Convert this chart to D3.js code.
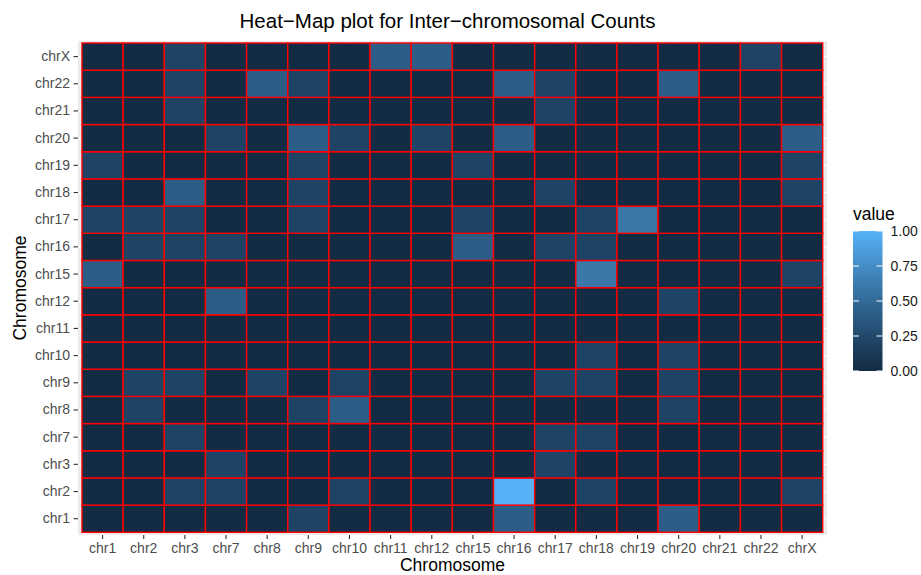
<!DOCTYPE html>
<html>
<head>
<meta charset="utf-8">
<script src="https://cdn.jsdelivr.net/npm/d3@7"></script>
<style>
  body { margin: 0; background: #fff; }
  text { font-family: "Liberation Sans", Arial, Helvetica, sans-serif; }
</style>
</head>
<body>
<svg width="921" height="575"></svg>
<script>
let svg = d3.select("svg");

// categories, bottom-to-top on y and left-to-right on x
const xCats = ["chr1","chr2","chr3","chr7","chr8","chr9","chr10","chr11","chr12","chr15","chr16","chr17","chr18","chr19","chr20","chr21","chr22","chrX"];
const yCats = ["chr1","chr2","chr3","chr7","chr8","chr9","chr10","chr11","chr12","chr15","chr16","chr17","chr18","chr19","chr20","chr21","chr22","chrX"];

// one row per y category (same order as yCats), one value per x category
const values = [
  [0,0,0,0,0,0.2,0,0,0,0,0.4,0,0,0,0.4,0,0,0],         // chr1
  [0,0,0.2,0.2,0,0,0.2,0,0,0,1,0,0.2,0,0,0,0,0.2],     // chr2
  [0,0,0,0.2,0,0,0,0,0,0,0,0.2,0,0,0,0,0,0],           // chr3
  [0,0,0.2,0,0,0,0,0,0,0,0,0.2,0.2,0,0,0,0,0],         // chr7
  [0,0.2,0,0,0,0.2,0.4,0,0,0,0,0,0,0,0.2,0,0,0],       // chr8
  [0,0.2,0.2,0,0.2,0,0.2,0,0,0,0,0.2,0.2,0,0.2,0,0,0], // chr9
  [0,0,0,0,0,0,0,0,0,0,0,0,0.2,0,0.2,0,0,0],           // chr10
  [0,0,0,0,0,0,0,0,0,0,0,0,0,0,0,0,0,0],               // chr11
  [0,0,0,0.4,0,0,0,0,0,0,0,0,0,0,0.2,0,0,0],           // chr12
  [0.4,0,0,0,0,0,0,0,0,0,0,0,0.6,0,0,0,0,0.2],         // chr15
  [0,0.2,0.2,0.2,0,0,0,0,0,0.4,0,0.2,0.2,0,0,0,0,0],   // chr16
  [0.2,0.2,0.2,0,0,0.2,0,0,0,0.2,0,0,0.2,0.6,0,0,0,0], // chr17
  [0,0,0.4,0,0,0.2,0,0,0,0,0,0.2,0,0,0,0,0,0.2],       // chr18
  [0.2,0,0,0,0,0.2,0,0,0,0.2,0,0,0,0,0,0,0,0.2],       // chr19
  [0,0,0,0.2,0,0.4,0.2,0,0.2,0,0.4,0,0,0,0,0,0,0.4],   // chr20
  [0,0,0.2,0,0,0,0,0,0,0,0,0.2,0,0,0,0,0,0],           // chr21
  [0,0,0.2,0,0.4,0.2,0,0,0,0,0.4,0.2,0,0,0.4,0,0,0],   // chr22
  [0,0,0.2,0,0,0,0,0.4,0.4,0,0,0,0,0,0,0,0.2,0]        // chrX
];

const legendTicks = [0, 0.25, 0.5, 0.75, 1];

// panel box and tile area
const panel = { left: 78, right: 827, top: 41, bottom: 535 };
const tiles = { left: 82, right: 822.7, top: 43, bottom: 532.3 };

let x = d3.scaleBand().domain(xCats).range([tiles.left, tiles.right]);
let y = d3.scaleBand().domain(yCats).range([tiles.bottom, tiles.top]);
let color = d3.scaleLinear().domain([0, 1]).range(["#132B43", "#56B1F7"]).interpolate(d3.interpolateLab);

let cells = [];
yCats.forEach((yc, i) => xCats.forEach((xc, j) => cells.push({ x: xc, y: yc, value: values[i][j] })));

// panel background + grid
svg.append("rect")
  .attr("x", panel.left).attr("y", panel.top)
  .attr("width", panel.right - panel.left).attr("height", panel.bottom - panel.top)
  .attr("fill", "#EBEBEB");

let grid = svg.append("g").attr("stroke", "#fff").attr("stroke-width", 1.1);
grid.selectAll(".gx").data(xCats).enter().append("line")
  .attr("x1", d => x(d) + x.bandwidth() / 2).attr("x2", d => x(d) + x.bandwidth() / 2)
  .attr("y1", panel.top).attr("y2", panel.bottom);
grid.selectAll(".gy").data(yCats).enter().append("line")
  .attr("y1", d => y(d) + y.bandwidth() / 2).attr("y2", d => y(d) + y.bandwidth() / 2)
  .attr("x1", panel.left).attr("x2", panel.right);

// tiles
svg.append("g").selectAll("rect")
  .data(cells)
  .enter().append("rect")
  .attr("x", d => x(d.x)).attr("y", d => y(d.y))
  .attr("width", x.bandwidth()).attr("height", y.bandwidth())
  .attr("fill", d => color(d.value))
  .attr("stroke", "#FF0000")
  .attr("stroke-width", 1.4);

// axes
let styleAxis = g => {
  g.select(".domain").remove();
  g.selectAll(".tick line").attr("stroke", "#333333").attr("stroke-width", 1.1);
  g.selectAll(".tick text").attr("fill", "#4D4D4D").style("font-size", "14px")
    .style("font-family", "'Liberation Sans', Arial, sans-serif");
};

svg.append("g")
  .attr("transform", `translate(0,${panel.bottom})`)
  .call(d3.axisBottom(x).tickSize(4).tickPadding(4))
  .call(styleAxis);

svg.append("g")
  .attr("transform", `translate(${panel.left},0)`)
  .call(d3.axisLeft(y).tickSize(4.5).tickPadding(3.5))
  .call(styleAxis);

// titles
let mid = (panel.left + panel.right) / 2;
svg.append("text")
  .attr("x", mid - 5).attr("y", 28)
  .attr("text-anchor", "middle")
  .style("font-size", "20.5px")
  .text("Heat\u2212Map plot for Inter\u2212chromosomal Counts");

svg.append("text")
  .attr("x", mid).attr("y", 571)
  .attr("text-anchor", "middle")
  .style("font-size", "17.5px")
  .text("Chromosome");

svg.append("text")
  .attr("transform", `translate(26,${(panel.top + panel.bottom) / 2}) rotate(-90)`)
  .attr("text-anchor", "middle")
  .style("font-size", "17.5px")
  .text("Chromosome");

// legend
const bar = { left: 853, width: 29.5, top: 231, bottom: 371 };
let defs = svg.append("defs");
let grad = defs.append("linearGradient").attr("id", "fillgrad")
  .attr("x1", 0).attr("y1", 1).attr("x2", 0).attr("y2", 0);
d3.range(0, 1.0001, 0.05).forEach(t => {
  grad.append("stop").attr("offset", t).attr("stop-color", color(t));
});

let legend = svg.append("g");
legend.append("text")
  .attr("x", bar.left).attr("y", 220)
  .style("font-size", "17.5px")
  .text("value");

legend.append("rect")
  .attr("x", bar.left).attr("y", bar.top)
  .attr("width", bar.width).attr("height", bar.bottom - bar.top)
  .attr("fill", "url(#fillgrad)");

let ly = d3.scaleLinear().domain([0, 1]).range([bar.bottom, bar.top]);
let lt = legend.selectAll(".lt").data(legendTicks).enter().append("g");
lt.append("line")
  .attr("x1", bar.left).attr("x2", bar.left + 6)
  .attr("y1", d => ly(d)).attr("y2", d => ly(d))
  .attr("stroke", "#fff").attr("stroke-width", 1);
lt.append("line")
  .attr("x1", bar.left + bar.width - 6).attr("x2", bar.left + bar.width)
  .attr("y1", d => ly(d)).attr("y2", d => ly(d))
  .attr("stroke", "#fff").attr("stroke-width", 1);
lt.append("text")
  .attr("x", bar.left + bar.width + 8)
  .attr("y", d => ly(d))
  .attr("dy", "0.36em")
  .style("font-size", "14px")
  .attr("fill", "#1A1A1A")
  .text(d => d.toFixed(2));
</script>
</body>
</html>
